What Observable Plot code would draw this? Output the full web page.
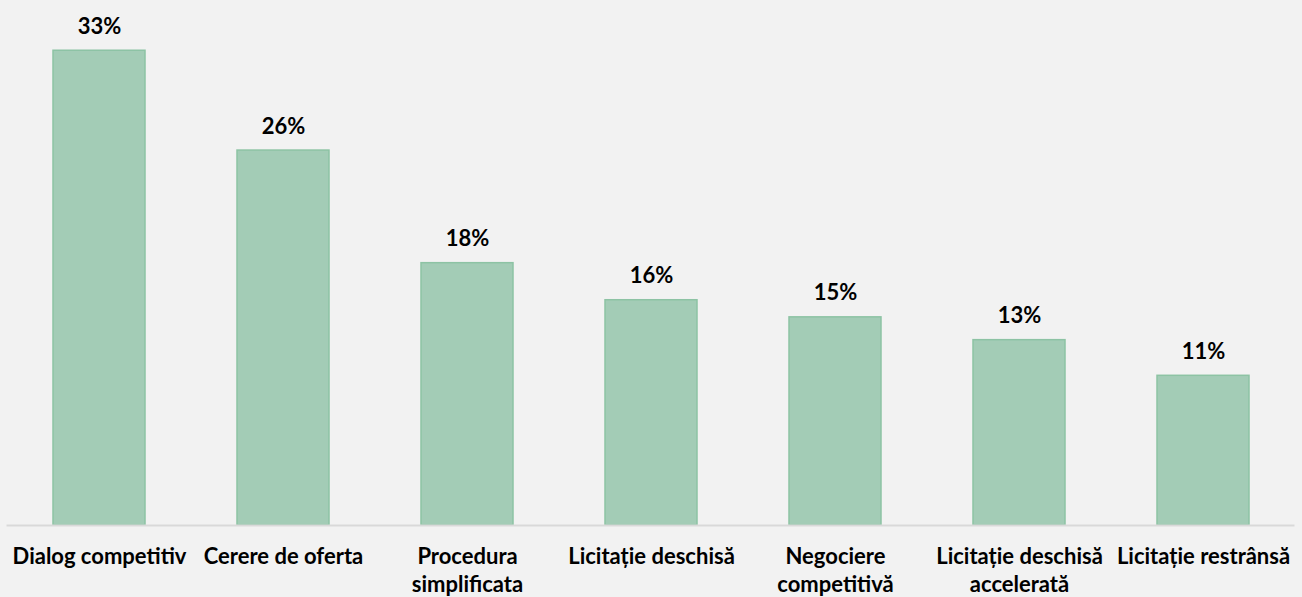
<!DOCTYPE html>
<html><head><meta charset="utf-8">
<script src="https://cdn.jsdelivr.net/npm/d3@7"></script>
<script src="https://cdn.jsdelivr.net/npm/@observablehq/plot@0.6"></script>
<style>html,body{margin:0;padding:0;background:#f2f2f2;overflow:hidden;}</style>
</head><body><div id="chart"></div>
<script>
const categories = ["Dialog competitiv", "Cerere de oferta", "Procedura simplificata", "Licitație deschisă", "Negociere competitivă", "Licitație deschisă accelerată", "Licitație restrânsă"];
const values = [33.3, 26.3, 18.4, 15.8, 14.6, 13.0, 10.5];
const labels = ["33%", "26%", "18%", "16%", "15%", "13%", "11%"];

const data = categories.map((c, i) => ({category: c, value: values[i], label: labels[i]}));

const chart = Plot.plot({
  width: 1302,
  height: 597,
  marginLeft: 6.5,
  marginRight: 7.5,
  marginTop: 26,
  marginBottom: 72,
  style: {background: "#f2f2f2", fontFamily: "Lato, 'Open Sans', sans-serif", color: "#000"},
  x: {domain: categories, paddingInner: 0.5, paddingOuter: 0.25, label: null},
  y: {domain: [0, 35], axis: null},
  marks: [
    Plot.barY(data, {x: "category", y: "value", fill: "#a3ccb6", stroke: "#8dc3a4", strokeWidth: 1.5}),
    Plot.ruleY([0], {stroke: "#d9d9d9", strokeWidth: 2}),
    Plot.text(data, {x: "category", y: "value", text: "label", lineAnchor: "bottom", dy: -17, fontSize: 22, fontWeight: "bold", fill: "#000"}),
    Plot.axisX({tickSize: 0, tickPadding: 18, fontSize: 22, fontWeight: "bold", lineWidth: 9, lineHeight: 1.3, fill: "#000", label: null})
  ]
});
document.getElementById("chart").append(chart);
</script>
</body></html>
